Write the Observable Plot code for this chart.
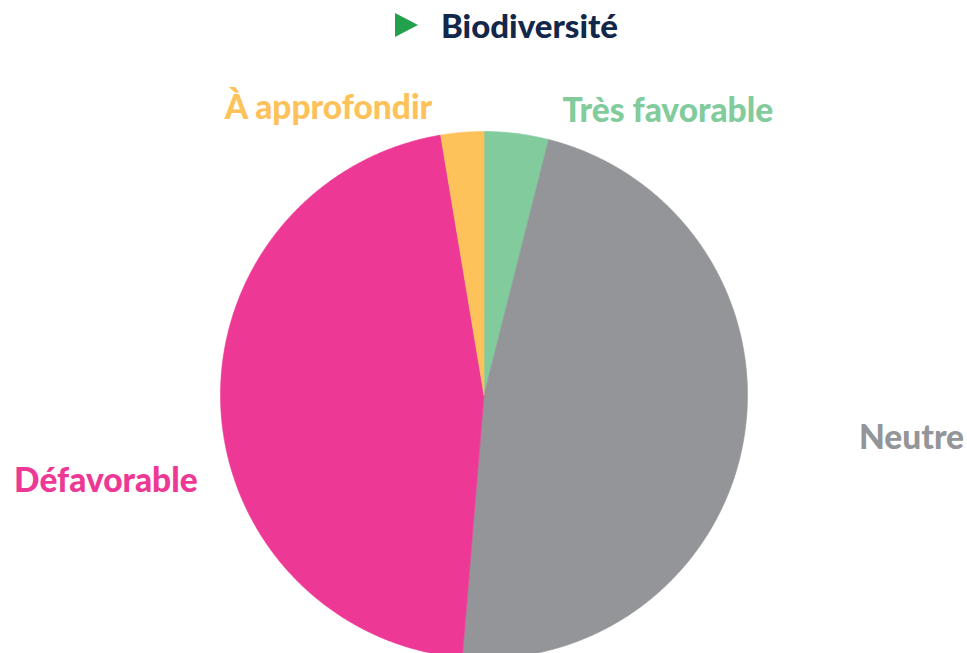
<!DOCTYPE html>
<html>
<head>
<meta charset="utf-8">
<script src="https://cdn.jsdelivr.net/npm/d3@7"></script>
<script src="https://cdn.jsdelivr.net/npm/@observablehq/plot@0.6"></script>
<style>
  html, body { margin: 0; padding: 0; background: #ffffff; }
  body { width: 967px; height: 653px; overflow: hidden; font-family: Lato, "Open Sans", sans-serif; }
  #title { position: relative; height: 55px; width: 967px; }
  #tri { position: absolute; left: 395px; top: 13px; width: 0; height: 0;
         border-top: 12px solid transparent; border-bottom: 12px solid transparent;
         border-left: 23px solid #22a04b; }
  #ttext { position: absolute; left: 441px; top: 5px; font-size: 33px; font-weight: 900;
           color: #13274b; line-height: 40px; }
  #chart svg { display: block; overflow: visible; }
</style>
</head>
<body>
<div id="title"><div id="tri"></div><div id="ttext">Biodiversité</div></div>
<div id="chart"></div>
<script>
// ---- data ----
const categories = ["Très favorable", "Neutre", "Défavorable", "À approfondir"];
const counts = [3, 36, 35, 2];
const colors = ["#82cb9d", "#949599", "#ed3895", "#fec25a"];

// ---- label layout (pixel offsets from the slice's outer mid-point) ----
const labelDx = [46, 115, -23, -30];
const labelDy = [-22, 0, 75, -24];
const labelAnchor = ["start", "start", "end", "end"];

const table = categories.map((c, i) => ({cat: c, value: counts[i]}));
const arcs = d3.pie().sort(null).value(d => d.value).startAngle(0).endAngle(2 * Math.PI)(table);

// polygon points of each slice, sampled along the arc
const pts = [];
arcs.forEach(a => {
  const cat = a.data.cat;
  pts.push({cat, x: 0, y: 0});
  const n = Math.max(8, Math.ceil((a.endAngle - a.startAngle) / 0.005));
  for (let k = 0; k <= n; k++) {
    const t = a.startAngle + (a.endAngle - a.startAngle) * k / n;
    pts.push({cat, x: Math.sin(t), y: Math.cos(t)});
  }
  pts.push({cat, x: 0, y: 0});
});

const labels = arcs.map((a, i) => {
  const m = (a.startAngle + a.endAngle) / 2;
  return {cat: a.data.cat, x: Math.sin(m), y: Math.cos(m), i};
});

const W = 967, H = 598;
const cx = 483.5, cy = 339.5, R = 263.5;

const color = {domain: categories, range: colors};

const plot = Plot.plot({
  width: W,
  height: H,
  margin: 0,
  x: {domain: [-1, 1], range: [cx - R, cx + R], axis: null},
  y: {domain: [-1, 1], range: [cy + R, cy - R], axis: null},
  color,
  style: {background: "transparent", overflow: "visible"},
  marks: [
    Plot.line(pts, {x: "x", y: "y", z: "cat", fill: "cat", stroke: "cat", strokeWidth: 0.6, curve: "linear"}),
    ...labels.map(l => Plot.text([l], {
      x: "x", y: "y", text: "cat",
      fill: colors[l.i],
      dx: labelDx[l.i], dy: labelDy[l.i],
      textAnchor: labelAnchor[l.i],
      fontSize: 33.5, fontWeight: 900,
      fontFamily: "Lato, 'Open Sans', sans-serif"
    }))
  ]
});
document.getElementById("chart").appendChild(plot);
</script>
</body>
</html>
